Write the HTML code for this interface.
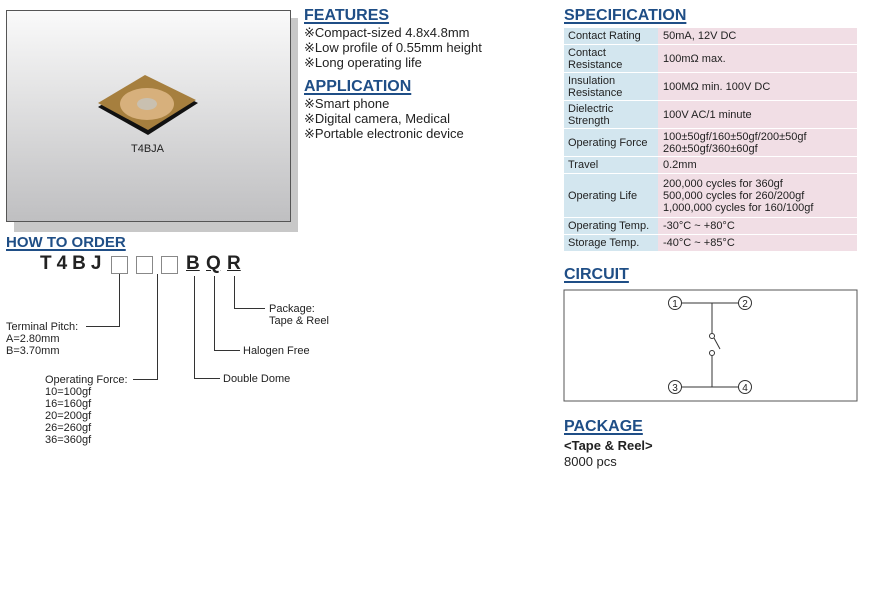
<!DOCTYPE html>
<html><head><meta charset="utf-8"><style>
body{margin:0;width:869px;height:599px;background:#fff;position:relative;font-family:"Liberation Sans",sans-serif;color:#222;overflow:hidden}
.a{position:absolute;white-space:nowrap}
.h{position:absolute;font-weight:bold;color:#1f4e86;font-size:16px;text-decoration:underline;text-underline-offset:2px;text-decoration-thickness:1.5px}
.t{font-size:13px;line-height:15px}
.s{font-size:11px;line-height:12px}
table{position:absolute;left:564px;top:27px;border-collapse:separate;border-spacing:0 1px;font-size:11px;line-height:12px}
td{padding:0 4px;height:0}
td.l{background:#d3e6ef;width:86px}
td.v{background:#f1dee5;width:190px;padding-left:5px}
</style></head><body>
<div class="a" style="left:14px;top:18px;width:284px;height:214px;background:#c8c8c8"></div>
<div class="a" style="left:6px;top:10px;width:283px;height:210px;border:1px solid #555;background:linear-gradient(#fafafa,#bfbfc1)"></div>
<svg class="a" style="left:95px;top:75px" width="110" height="65">
<polygon points="3,32 52,2 103,28 53,60" fill="#111"/>
<polygon points="3,28 50,0 101,25 53,55" fill="#a67f3e"/>
<ellipse cx="52" cy="29" rx="27" ry="16" fill="#d7b07c"/>
<ellipse cx="52" cy="29" rx="10" ry="6" fill="#c9c0b0"/>
</svg>
<div class="a s" style="left:131px;top:143px;font-size:11px">T4BJA</div>

<div class="h" style="left:304px;top:7px">FEATURES</div>
<div class="a t" style="left:304px;top:25px">※Compact-sized 4.8x4.8mm<br>※Low profile of 0.55mm height<br>※Long operating life</div>
<div class="h" style="left:304px;top:78px">APPLICATION</div>
<div class="a t" style="left:304px;top:96px">※Smart phone<br>※Digital camera, Medical<br>※Portable electronic device</div>

<div class="h" style="left:6px;top:234px;font-size:15px">HOW TO ORDER</div>
<div class="a" style="left:40px;top:253px;font-size:19px;font-weight:bold;letter-spacing:5px">T4BJ</div>
<div class="a" style="left:186px;top:253px;font-size:19px;font-weight:bold;text-decoration:underline">B</div>
<div class="a" style="left:206px;top:253px;font-size:19px;font-weight:bold;text-decoration:underline">Q</div>
<div class="a" style="left:227px;top:253px;font-size:19px;font-weight:bold;text-decoration:underline">R</div>
<svg class="a" style="left:0;top:0" width="340" height="450" fill="none" stroke="#333" stroke-width="1">
<rect x="111.5" y="256.5" width="16" height="17" stroke="#888"/>
<rect x="136.5" y="256.5" width="16" height="17" stroke="#888"/>
<rect x="161.5" y="256.5" width="16" height="17" stroke="#888"/>
<polyline points="119.5,274 119.5,326.5 86,326.5"/>
<polyline points="157.5,274 157.5,379.5 133,379.5"/>
<polyline points="194.5,276 194.5,378.5 220,378.5"/>
<polyline points="214.5,276 214.5,350.5 240,350.5"/>
<polyline points="234.5,276 234.5,308.5 265,308.5"/>
</svg>
<div class="a s" style="left:6px;top:321px">Terminal Pitch:<br>A=2.80mm<br>B=3.70mm</div>
<div class="a s" style="left:45px;top:374px">Operating Force:<br>10=100gf<br>16=160gf<br>20=200gf<br>26=260gf<br>36=360gf</div>
<div class="a s" style="left:223px;top:373px">Double Dome</div>
<div class="a s" style="left:243px;top:345px">Halogen Free</div>
<div class="a s" style="left:269px;top:303px">Package:<br>Tape &amp; Reel</div>

<div class="h" style="left:564px;top:7px">SPECIFICATION</div>
<table>
<tr style="height:16px"><td class="l">Contact Rating</td><td class="v">50mA, 12V DC</td></tr>
<tr style="height:27px"><td class="l">Contact<br>Resistance</td><td class="v">100mΩ max.</td></tr>
<tr style="height:27px"><td class="l">Insulation<br>Resistance</td><td class="v">100MΩ min. 100V DC</td></tr>
<tr style="height:27px"><td class="l">Dielectric<br>Strength</td><td class="v">100V AC/1 minute</td></tr>
<tr style="height:27px"><td class="l">Operating Force</td><td class="v">100±50gf/160±50gf/200±50gf<br>260±50gf/360±60gf</td></tr>
<tr style="height:16px"><td class="l">Travel</td><td class="v">0.2mm</td></tr>
<tr style="height:43px"><td class="l">Operating Life</td><td class="v">200,000 cycles for 360gf<br>500,000 cycles for 260/200gf<br>1,000,000 cycles for 160/100gf</td></tr>
<tr style="height:16px"><td class="l">Operating Temp.</td><td class="v">-30°C ~ +80°C</td></tr>
<tr style="height:16px"><td class="l">Storage Temp.</td><td class="v">-40°C ~ +85°C</td></tr>
</table>

<div class="h" style="left:564px;top:266px">CIRCUIT</div>
<svg class="a" style="left:563px;top:289px" width="296" height="114" fill="none" stroke="#333">
<rect x="1" y="1" width="293" height="111" stroke="#555"/>
<line x1="118" y1="14" x2="176" y2="14"/><line x1="149" y1="14" x2="149" y2="44"/>
<line x1="118" y1="98" x2="176" y2="98"/><line x1="149" y1="98" x2="149" y2="67"/>
<circle cx="149" cy="47" r="2.5"/><circle cx="149" cy="64" r="2.5"/>
<line x1="151" y1="49" x2="157" y2="60"/>
<g fill="#fff"><circle cx="112" cy="14" r="6.5"/><circle cx="182" cy="14" r="6.5"/><circle cx="112" cy="98" r="6.5"/><circle cx="182" cy="98" r="6.5"/></g>
<g fill="#222" stroke="none" font-size="10" font-family="Liberation Sans" text-anchor="middle">
<text x="112" y="18">1</text><text x="182" y="18">2</text><text x="112" y="102">3</text><text x="182" y="102">4</text></g>
</svg>

<div class="h" style="left:564px;top:418px">PACKAGE</div>
<div class="a t" style="left:564px;top:438px;font-weight:bold">&lt;Tape &amp; Reel&gt;</div>
<div class="a t" style="left:564px;top:454px">8000 pcs</div>
</body></html>
